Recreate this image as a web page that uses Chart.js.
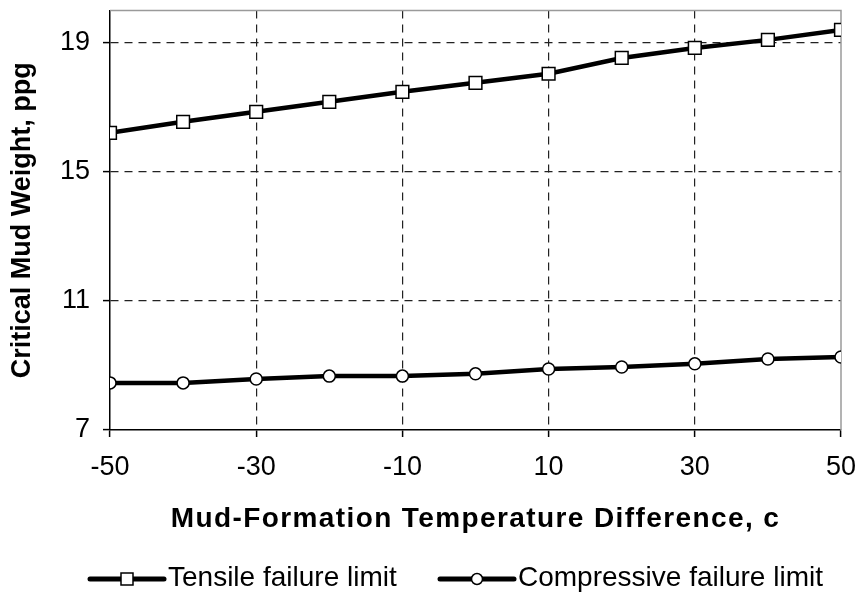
<!DOCTYPE html>
<html>
<head>
<meta charset="utf-8">
<script src="https://cdn.jsdelivr.net/npm/chart.js@4.4.1/dist/chart.umd.min.js"></script>
<style>
  html, body { margin: 0; padding: 0; background: #fff; }
  #wrap { width: 860px; height: 593px; position: relative; }
</style>
</head>
<body>
<div id="wrap"><canvas id="chart"></canvas></div>
<script>
// Critical mud weight vs mud-formation temperature difference
const tempDiff = [-50, -40, -30, -20, -10, 0, 10, 20, 30, 40, 50];
const tensileLimit = [16.21, 16.55, 16.86, 17.17, 17.48, 17.76, 18.04, 18.53, 18.84, 19.09, 19.40];
const compressiveLimit = [8.46, 8.46, 8.58, 8.67, 8.67, 8.74, 8.89, 8.95, 9.05, 9.20, 9.26];
const xTicks = [-50, -30, -10, 10, 30, 50];
const yTicks = [7, 11, 15, 19];
const seriesNames = ['Tensile failure limit', 'Compressive failure limit'];

const FONT = '"Liberation Sans", Arial, sans-serif';

// gray frame on top and right of the plot area
const framePlugin = {
  id: 'frame',
  beforeDatasetsDraw(chart) {
    const { ctx, chartArea: a } = chart;
    ctx.save();
    ctx.strokeStyle = '#9a9a9a';
    ctx.lineWidth = 1.5;
    ctx.beginPath();
    ctx.moveTo(a.left, a.top);
    ctx.lineTo(a.right, a.top);
    ctx.lineTo(a.right, a.bottom);
    ctx.stroke();
    ctx.restore();
  },
};

// legend: line + marker + label, like the spreadsheet legend
const lineLegend = {
  id: 'lineLegend',
  afterDraw(chart) {
    const ctx = chart.ctx;
    const y = 579;
    const starts = [90, 440];
    ctx.save();
    chart.data.datasets.forEach((ds, i) => {
      const x0 = starts[i];
      const x1 = x0 + 74;
      const xm = (x0 + x1) / 2;
      ctx.strokeStyle = ds.borderColor;
      ctx.lineWidth = 5;
      ctx.lineCap = 'round';
      ctx.beginPath();
      ctx.moveTo(x0, y);
      ctx.lineTo(x1, y);
      ctx.stroke();
      ctx.lineCap = 'butt';
      ctx.fillStyle = '#fff';
      ctx.strokeStyle = '#000';
      ctx.lineWidth = 1.5;
      ctx.beginPath();
      if (ds.pointStyle === 'rect') ctx.rect(xm - 6, y - 6, 12, 12);
      else ctx.arc(xm, y, 5.5, 0, Math.PI * 2);
      ctx.fill();
      ctx.stroke();
      ctx.fillStyle = '#000';
      ctx.font = '28px ' + FONT;
      ctx.textAlign = 'left';
      ctx.textBaseline = 'middle';
      ctx.fillText(ds.label, x1 + 4, y - 1);
    });
    ctx.restore();
  },
};

// letter spacing for the x title
const spacedTitle = {
  id: 'spacedTitle',
  beforeDraw(chart) {
    const sc = chart.scales.x;
    if (sc._spaced) return;
    const orig = sc.drawTitle;
    sc.drawTitle = function () {
      this.ctx.save();
      this.ctx.letterSpacing = '1.4px';
      orig.apply(this, arguments);
      this.ctx.restore();
    };
    sc._spaced = true;
  },
};

const xy = (vals) => vals.map((v, i) => ({ x: tempDiff[i], y: v }));

new Chart(document.getElementById('chart'), {
  type: 'line',
  data: {
    datasets: [
      {
        label: seriesNames[0],
        data: xy(tensileLimit),
        borderColor: '#000',
        borderWidth: 4.5,
        pointStyle: 'rect',
        pointRadius: 9,
        pointBackgroundColor: '#fff',
        pointBorderColor: '#000',
        pointBorderWidth: 1.5,
        tension: 0,
      },
      {
        label: seriesNames[1],
        data: xy(compressiveLimit),
        borderColor: '#000',
        borderWidth: 4.5,
        pointStyle: 'circle',
        pointRadius: 6,
        pointBackgroundColor: '#fff',
        pointBorderColor: '#000',
        pointBorderWidth: 1.5,
        tension: 0,
      },
    ],
  },
  options: {
    responsive: true,
    maintainAspectRatio: false,
    animation: false,
    layout: { padding: { top: 10, right: 19, bottom: 50, left: 0 } },
    plugins: {
      legend: { display: false },
      tooltip: { enabled: false },
    },
    scales: {
      x: {
        type: 'linear',
        min: -50,
        max: 50,
        afterBuildTicks: (s) => { s.ticks = xTicks.map(v => ({ value: v })); },
        afterFit: (s) => { s.height = 113; s.paddingLeft = 0; s.paddingRight = 0; },
        border: { color: '#000', width: 1.5, dash: [8, 6] },
        grid: {
          color: (c) => (c.tick && (c.tick.value === -50 || c.tick.value === 50)) ? 'rgba(0,0,0,0)' : '#222',
          lineWidth: 1.2,
          tickLength: 7,
          tickColor: '#000',
          tickWidth: 1.5,
          tickBorderDash: [],
        },
        ticks: { font: { family: FONT, size: 27 }, color: '#000', padding: 14, maxRotation: 0 },
        title: {
          display: true,
          text: 'Mud-Formation Temperature Difference, c',
          font: { family: FONT, size: 28, weight: 'bold' },
          color: '#000',
          padding: { top: 0, bottom: 7 },
        },
      },
      y: {
        min: 7,
        max: 20,
        afterBuildTicks: (s) => { s.ticks = yTicks.map(v => ({ value: v })); },
        afterFit: (s) => { s.width = 110; s.paddingTop = 0; s.paddingBottom = 0; },
        border: { color: '#000', width: 1.5, dash: [8, 6] },
        grid: {
          color: (c) => (c.tick && c.tick.value === 7) ? 'rgba(0,0,0,0)' : '#222',
          lineWidth: 1.2,
          tickLength: 7,
          tickColor: '#000',
          tickWidth: 1.5,
          tickBorderDash: [],
        },
        ticks: { font: { family: FONT, size: 27 }, color: '#000', padding: 13 },
        title: {
          display: true,
          text: 'Critical Mud Weight, ppg',
          font: { family: FONT, size: 27, weight: 'bold' },
          color: '#000',
          padding: { top: 6, bottom: 0 },
        },
      },
    },
  },
  plugins: [framePlugin, lineLegend, spacedTitle],
});
</script>
</body>
</html>
